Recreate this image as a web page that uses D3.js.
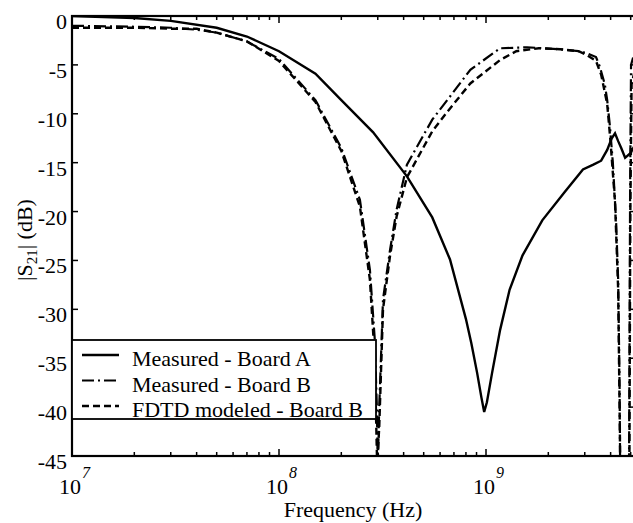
<!DOCTYPE html>
<html>
<head>
<meta charset="utf-8">
<script src="https://cdn.jsdelivr.net/npm/d3@7"></script>
<style>
  body { margin: 0; background: #fff; }
  text { font-family: "Liberation Serif", "Times New Roman", serif; fill: #000; }
</style>
</head>
<body>
<svg id="chart" width="633" height="523"></svg>
<script>
// Measured - Board A (solid)
var freqA = [1e7, 2e7, 3e7, 5e7, 7e7, 1e8, 1.5e8, 2e8, 2.85e8, 4.15e8, 5.5e8, 6.7e8, 8e8, 8.5e8, 9.06e8, 9.5e8,
             9.8e8, 1.01e9, 1.07e9, 1.17e9, 1.3e9, 1.5e9, 1.87e9, 2.4e9, 2.94e9, 3.3e9, 3.6e9, 3.85e9, 4.05e9,
             4.2e9, 4.35e9, 4.5e9, 4.7e9, 5e9, 5.3e9];
var dbA = [0, -0.2, -0.5, -1.2, -2.1, -3.6, -5.9, -8.6, -11.9, -16.4, -20.6, -24.9, -31, -33.5, -36.5, -39,
           -40.5, -39.5, -36.5, -32.1, -28, -24.5, -20.9, -18, -15.7, -15.2, -14.8, -13.7, -12.5,
           -12, -12.8, -13.5, -14.5, -14, -13];

// Measured - Board B (dash-dot)
var freqB = [1e7, 2e7, 3e7, 4e7, 5e7, 7e7, 1e8, 1.5e8, 2e8, 2.46e8, 2.75e8, 2.9e8, 2.97e8, 3.0e8, 3.05e8,
             3.18e8, 3.44e8, 3.7e8, 4.15e8, 5.5e8, 6.5e8, 8.4e8, 1.17e9, 1.58e9, 2.28e9, 2.8e9, 3.07e9,
             3.4e9, 3.55e9, 3.75e9, 3.85e9, 3.97e9, 4.1e9, 4.25e9, 4.35e9, 4.42e9, 4.46e9, 4.9e9, 4.97e9,
             5.02e9, 5.3e9];
var dbB = [-1.0, -1.1, -1.2, -1.4, -1.7, -2.6, -4.4, -8.6, -13.5, -18.8, -26, -33, -40, -46, -40,
           -29, -23.9, -19.8, -15.2, -10.6, -8.6, -5.5, -3.3, -3.2, -3.4, -3.6, -3.8,
           -4.2, -5.2, -7, -8.6, -11.3, -15, -21, -27, -38, -50, -50, -17,
           -5, -3.2];

// FDTD modeled - Board B (dashed)
var freqF = [1e7, 2e7, 3e7, 4e7, 5e7, 7e7, 1e8, 1.5e8, 2e8, 2.46e8, 2.75e8, 2.9e8, 2.98e8, 3.05e8, 3.18e8,
             3.44e8, 3.7e8, 4.15e8, 5.5e8, 6.5e8, 8.4e8, 1.17e9, 1.4e9, 1.8e9, 2.28e9, 2.8e9, 3.07e9,
             3.4e9, 3.6e9, 3.85e9, 4e9, 4.2e9, 4.35e9, 4.43e9, 4.47e9, 4.92e9, 4.98e9, 5.05e9, 5.3e9];
var dbF = [-1.2, -1.2, -1.3, -1.3, -1.7, -2.6, -4.6, -8.8, -13.8, -19.5, -27, -35, -46, -42, -30,
           -24.5, -20.5, -16.5, -11.8, -9.8, -6.9, -4.5, -3.6, -3.3, -3.4, -3.6, -4,
           -4.6, -6, -9, -13, -19, -28, -42, -50, -50, -20, -7, -5];

var yTicks = [0, -5, -10, -15, -20, -25, -30, -35, -40, -45];
var xDecades = [7, 8, 9];
var legendLabels = ["Measured - Board A", "Measured - Board B", "FDTD modeled - Board B"];

var serif = "Liberation Serif, Times New Roman, Times, serif";
var svg = d3.select("#chart");
var pLeft = 72, pTop = 16, pBottom = 456;
var x = d3.scaleLog().domain([1e7, 5.3e9]).range([pLeft, pLeft + Math.log10(530) * 207]);
var y = d3.scaleLinear().domain([-45, 0]).range([pBottom, pTop]);
var pRight = x.range()[1];

svg.append("defs").append("clipPath").attr("id", "plotclip")
  .append("rect").attr("x", pLeft).attr("y", pTop).attr("width", pRight - pLeft).attr("height", pBottom - pTop);

// curves
var line = d3.line().x(function(d) { return x(d[0]); }).y(function(d) { return y(d[1]); });
var series = [
  { f: freqA, v: dbA, dash: null, w: 2.4 },
  { f: freqB, v: dbB, dash: "12,4,2,4", w: 2.2 },
  { f: freqF, v: dbF, dash: "7,4", w: 2.4 }
];
var plot = svg.append("g").attr("clip-path", "url(#plotclip)");
series.forEach(function(s) {
  plot.append("path")
    .datum(d3.zip(s.f, s.v))
    .attr("d", line)
    .attr("fill", "none")
    .attr("stroke", "#000")
    .attr("stroke-width", s.w)
    .attr("stroke-dasharray", s.dash);
});

// ticks (inward, all four sides)
var ax = svg.append("g").attr("stroke", "#000");
var minor = [];
for (var e = 7; e <= 9; e++) for (var m = 1; m <= 9; m++) {
  var f = m * Math.pow(10, e);
  if (f <= 5.3e9) minor.push({ f: f, major: m === 1 });
}
minor.forEach(function(t) {
  var len = t.major ? 7 : 4;
  ax.append("line").attr("x1", x(t.f)).attr("x2", x(t.f)).attr("y1", pBottom).attr("y2", pBottom - len).attr("stroke-width", 1.5);
  ax.append("line").attr("x1", x(t.f)).attr("x2", x(t.f)).attr("y1", pTop).attr("y2", pTop + len).attr("stroke-width", 1.5);
});
yTicks.forEach(function(t) {
  ax.append("line").attr("x1", pLeft).attr("x2", pLeft + 6).attr("y1", y(t)).attr("y2", y(t)).attr("stroke-width", 1.5);
  ax.append("line").attr("x1", pRight).attr("x2", pRight - 6).attr("y1", y(t)).attr("y2", y(t)).attr("stroke-width", 1.5);
});
ax.append("rect").attr("x", pLeft).attr("y", pTop).attr("width", pRight - pLeft).attr("height", pBottom - pTop)
  .attr("fill", "none").attr("stroke-width", 2.2);

// y tick labels
svg.append("g").selectAll("text").data(yTicks).enter().append("text")
  .attr("x", 67).attr("y", function(d) { return y(d) + 13; })
  .attr("text-anchor", "end").attr("font-size", 22).attr("font-family", serif)
  .text(function(d) { return d; });

// x tick labels 10^n
xDecades.forEach(function(e) {
  svg.append("text").attr("x", x(Math.pow(10, e)) - 2).attr("y", 494)
    .attr("text-anchor", "middle").attr("font-size", 22).attr("font-family", serif).text("10");
  svg.append("text").attr("x", x(Math.pow(10, e)) + 10).attr("y", 478)
    .attr("font-size", 16).attr("font-style", "italic").attr("font-family", serif).text(e);
});

// axis titles
svg.append("text").attr("x", 353).attr("y", 517).attr("text-anchor", "middle")
  .attr("font-size", 22).attr("font-family", serif).text("Frequency (Hz)");
var yl = svg.append("text").attr("transform", "translate(32,240) rotate(-90)")
  .attr("text-anchor", "middle").attr("font-size", 22).attr("font-family", serif);
yl.append("tspan").text("|S");
yl.append("tspan").attr("font-size", 15).attr("dy", 5).text("21");
yl.append("tspan").attr("dy", -5).text("| (dB)");

// legend
var lg = svg.append("g");
lg.append("rect").attr("x", pLeft).attr("y", 340).attr("width", 304).attr("height", 79)
  .attr("fill", "#fff").attr("stroke", "#000").attr("stroke-width", 1.8);
legendLabels.forEach(function(lab, i) {
  var yy = 355 + i * 25.5;
  lg.append("line").attr("x1", 82).attr("x2", 119).attr("y1", yy).attr("y2", yy)
    .attr("stroke", "#000").attr("stroke-width", series[i].w).attr("stroke-dasharray", series[i].dash);
  lg.append("text").attr("x", 132).attr("y", yy + 11).attr("font-size", 22).attr("font-family", serif).text(lab);
});
</script>
</body>
</html>
